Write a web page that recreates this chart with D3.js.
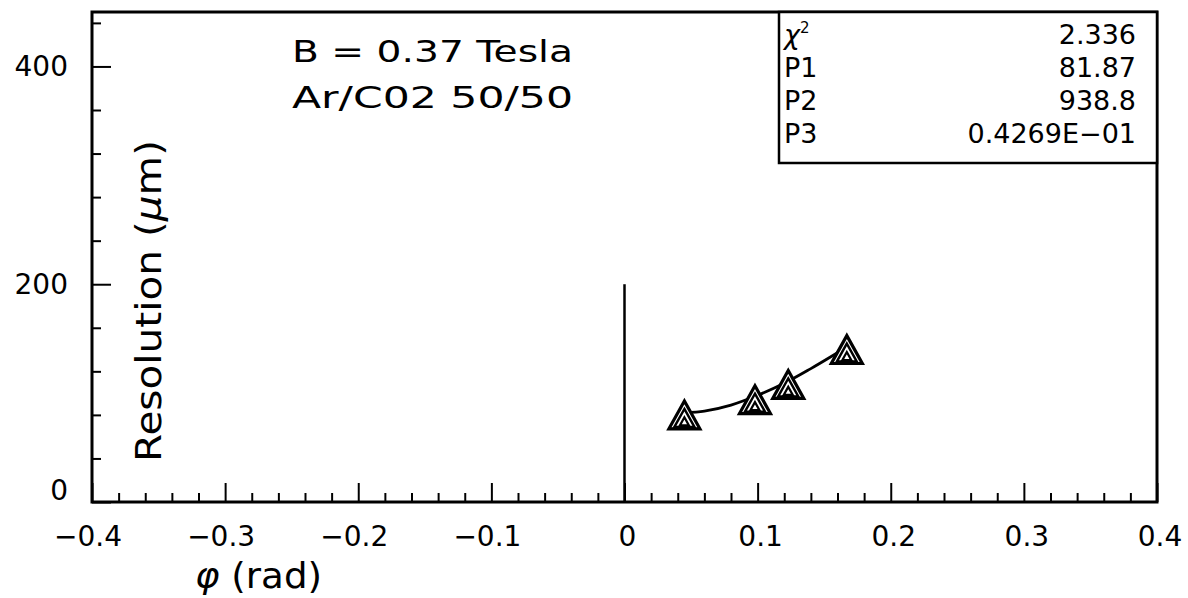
<!DOCTYPE html>
<html><head><meta charset="utf-8">
<script src="https://cdn.jsdelivr.net/npm/d3@7"></script>
<style>html,body{margin:0;padding:0;background:#fff;} svg{display:block;}</style>
</head><body>
<svg id="c" width="1188" height="598"></svg>
<script>
// ---- data ----
const pointPhi = [0.045, 0.098, 0.123, 0.167];
const pointRes = [80, 94, 108, 140];
const curvePhi = [0.045, 0.06, 0.08, 0.10, 0.12, 0.14, 0.168];
const curveRes = [82, 83.5, 89, 98, 109, 122.5, 143];
const xMajorTicks = [-0.4, -0.3, -0.2, -0.1, 0, 0.1, 0.2, 0.3, 0.4];
const xTickLabels = ["\u22120.4", "\u22120.3", "\u22120.2", "\u22120.1", "0", "0.1", "0.2", "0.3", "0.4"];
const yMajorTicks = [0, 200, 400];
const yTickLabels = ["0", "200", "400"];
const statNames = ["\u03C7", "P1", "P2", "P3"];
const statValues = ["2.336", "81.87", "938.8", "0.4269E\u221201"];
const titleLines = ["B = 0.37 Tesla", "Ar/C02 50/50"];
const refLine = [[0, 0], [0, 200]];

// ---- layout ----
const L = 92, R = 1157, T = 12, B = 502;
const svg = d3.select("#c");
const x = d3.scaleLinear().domain([-0.4, 0.4]).range([L, R]);
const y = d3.scaleLinear().domain([0, 450]).range([B, T]);
const FONT = "'DejaVu Sans', 'Liberation Sans', sans-serif";

// minor ticks
const xMinor = d3.range(-0.4, 0.4001, 0.02).filter(v => Math.abs(Math.round(v * 10) - v * 10) > 1e-6);
const yMinor = d3.range(0, 450, 40).filter(v => v % 200 !== 0);

function styleAxis(g) {
  g.select(".domain").remove();
  g.selectAll("line").attr("stroke", "#000").attr("stroke-width", 2);
}
svg.append("g").attr("transform", `translate(0,${B})`)
  .call(d3.axisBottom(x).tickValues(xMajorTicks).tickSize(-19).tickFormat("")).call(styleAxis);
svg.append("g").attr("transform", `translate(0,${B})`)
  .call(d3.axisBottom(x).tickValues(xMinor).tickSize(-9).tickFormat("")).call(styleAxis);
svg.append("g").attr("transform", `translate(${L},0)`)
  .call(d3.axisLeft(y).tickValues(yMajorTicks).tickSize(-19).tickFormat("")).call(styleAxis);
svg.append("g").attr("transform", `translate(${L},0)`)
  .call(d3.axisLeft(y).tickValues(yMinor).tickSize(-9).tickFormat("")).call(styleAxis);

// frame
svg.append("rect").attr("x", L).attr("y", T).attr("width", R - L).attr("height", B - T)
  .attr("fill", "none").attr("stroke", "#000").attr("stroke-width", 3);

// tick labels
svg.append("g").selectAll("text").data(xMajorTicks).join("text")
  .attr("x", d => x(d) + (d < 0 ? -4 : 3)).attr("y", 546)
  .attr("text-anchor", "middle").attr("font-family", FONT).attr("font-size", 28)
  .text((d, i) => xTickLabels[i]);
svg.append("g").selectAll("text").data(yMajorTicks).join("text")
  .attr("x", 68).attr("y", d => d === 0 ? 500 : y(d) + 10)
  .attr("text-anchor", "end").attr("font-family", FONT).attr("font-size", 28)
  .text((d, i) => yTickLabels[i]);

// axis titles
const yl = svg.append("text").attr("transform", "translate(161,301) rotate(-90)")
  .attr("text-anchor", "middle").attr("font-family", FONT).attr("font-size", 36)
  .attr("textLength", 322).attr("lengthAdjust", "spacingAndGlyphs");
yl.append("tspan").text("Resolution (");
yl.append("tspan").attr("font-style", "italic").text("\u03BC");
yl.append("tspan").text("m)");
const xl = svg.append("text").attr("x", 195).attr("y", 588)
  .attr("font-family", FONT).attr("font-size", 36)
  .attr("textLength", 127).attr("lengthAdjust", "spacingAndGlyphs");
xl.append("tspan").attr("font-style", "italic").text("\u03C6");
xl.append("tspan").text(" (rad)");

// title text
svg.append("g").selectAll("text").data(titleLines).join("text")
  .attr("x", 292).attr("y", (d, i) => 62 + i * 46)
  .attr("font-family", FONT).attr("font-size", 31)
  .attr("textLength", 281).attr("lengthAdjust", "spacingAndGlyphs")
  .text(d => d);

// stats box
const SX = 779, SY = T, SW = R - 779, SH = 151;
svg.append("rect").attr("x", SX).attr("y", SY).attr("width", SW).attr("height", SH)
  .attr("fill", "#fff").attr("stroke", "#000").attr("stroke-width", 2.5);
const rowY = [44, 77, 110, 143];
const sn = svg.append("g").selectAll("text").data(statNames).join("text")
  .attr("x", 784).attr("y", (d, i) => rowY[i])
  .attr("font-family", FONT).attr("font-size", 27)
  .text(d => d);
sn.filter((d, i) => i === 0).attr("font-style", "italic")
  .append("tspan").attr("font-size", 15).attr("dy", -11).attr("font-style", "normal").text("2");
svg.append("g").selectAll("text").data(statValues).join("text")
  .attr("x", 1136).attr("y", (d, i) => rowY[i])
  .attr("text-anchor", "end").attr("font-family", FONT).attr("font-size", 27)
  .text(d => d);

// reference line at phi=0
svg.append("path").attr("d", d3.line().x(d => x(d[0])).y(d => y(d[1]))(refLine))
  .attr("stroke", "#000").attr("stroke-width", 2.5).attr("fill", "none");

// fit curve
const curve = curvePhi.map((p, i) => [p, curveRes[i]]);
svg.append("path").attr("d", d3.line().x(d => x(d[0])).y(d => y(d[1])).curve(d3.curveMonotoneX)(curve))
  .attr("stroke", "#000").attr("stroke-width", 2.8).attr("fill", "none");

// markers: nested triangles
const tri = s => { const h = s * 0.9; return `M0,${-h/2}L${s/2},${h/2}L${-s/2},${h/2}Z`; };
const pts = pointPhi.map((p, i) => [p, pointRes[i]]);
const mg = svg.append("g").selectAll("g").data(pts).join("g")
  .attr("transform", d => `translate(${x(d[0])},${y(d[1])})`);
mg.append("path").attr("d", tri(31)).attr("fill", "#fff").attr("stroke", "#000").attr("stroke-width", 3.2).attr("stroke-linejoin", "miter");
mg.append("path").attr("d", tri(20)).attr("transform", "translate(0,3)").attr("fill", "none").attr("stroke", "#000").attr("stroke-width", 2.4);
mg.append("path").attr("d", tri(9)).attr("transform", "translate(0,6.5)").attr("fill", "none").attr("stroke", "#000").attr("stroke-width", 2.2);
</script>
</body></html>
